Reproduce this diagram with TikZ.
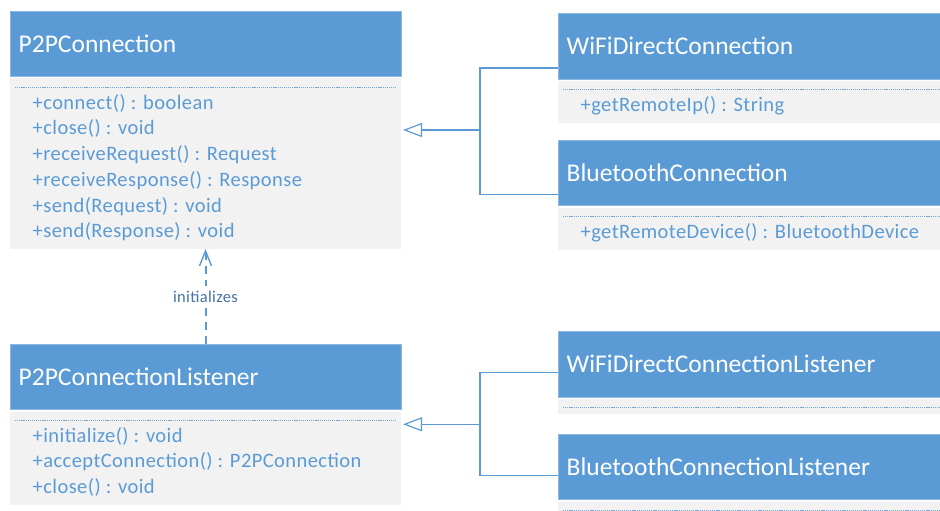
\documentclass[tikz,border=0pt]{standalone}
\usepackage{fontspec}
\setmainfont{Carlito}
\usetikzlibrary{arrows.meta}

\definecolor{umlblue}{HTML}{5B9BD5}
\definecolor{umlgray}{HTML}{F2F2F2}
\definecolor{umlrim}{HTML}{8DB8E2}
\definecolor{labelblue}{HTML}{4672A4}

\tikzset{
  classbox/.style={rectangle, inner sep=0pt, outer sep=0pt},
  classhead/.style={rectangle, fill=umlblue, draw=umlrim, line width=0.5pt, inner sep=0pt, outer sep=0pt},
  classtitle/.style={inner sep=0pt, text=white, font=\fontsize{25.5}{30}\selectfont},
  classbody/.style={rectangle, fill=umlgray, inner sep=0pt, outer sep=0pt},
  separator/.style={draw=umlblue!85, line width=0.6pt, dash pattern=on 1.2pt off 0.9pt},
  member/.style={inner sep=0pt, text=umlblue, font=\fontsize{20.5}{24}\selectfont\addfontfeatures{LetterSpace=2.1}},
  link/.style={draw=umlblue, line width=1.2pt},
  generalize/.style={link, -{Triangle[open, length=19pt, width=14pt, fill=white]}, shorten >=2pt},
  dependency/.style={draw=umlblue, line width=2pt, dash pattern=on 8pt off 6pt,
    -{Straight Barb[length=15pt, width=12pt, line width=1.4pt]}},
  depnote/.style={fill=white, inner xsep=2pt, inner ysep=5pt, text=labelblue,
    font=\fontsize{16.5}{19}\selectfont\addfontfeatures{LetterSpace=2}}
}

% #1 name, #2 x, #3 y, #4 width, #5 header height, #6 body height, #7 title
\newcommand\umlclass[7]{%
  \node[classbox, minimum width=#4pt, minimum height=#5pt+#6pt+2pt, anchor=north west] (#1) at (#2,#3) {};
  \node[classhead, minimum width=#4pt, minimum height=#5pt, anchor=north west] (#1-h) at (#1.north west) {};
  \node[classtitle, anchor=base west] (#1-t) at ([xshift=8.5pt,yshift=-8.3pt]#1-h.west) {#7};
  \node[classbody, minimum width=#4pt, minimum height=#6pt, anchor=south west] (#1-b) at (#1.south west) {};
  \draw[separator] ([xshift=5pt,yshift=-8.5pt]#1-b.north west) -- ([xshift=-5pt,yshift=-8.5pt]#1-b.north east);
}
% #1 class name, #2 comma separated operations
\newcommand\umlmembers[2]{%
  \foreach \m [count=\i] in {#2} {%
    \node[member, anchor=base west] (#1-m\i) at ([xshift=22.5pt,yshift={-30.7pt-(\i-1)*25.7pt}]#1-b.north west) {\m};
  }%
}

\begin{document}
\begin{tikzpicture}[x=1pt, y=-1pt]
  \useasboundingbox (0,0) rectangle (940,511);
  \clip (0,0) rectangle (940,511);

  % abstract connection and its listener
  \umlclass{pc}{10}{11}{391}{65.5}{170.5}{P2PConnection}
  \umlmembers{pc}{+connect() : boolean, +close() : void, +receiveRequest() : Request,
    +receiveResponse() : Response, +send(Request) : void, +send(Response) : void}

  \umlclass{pcl}{10}{344}{391}{65.5}{93}{P2PConnectionListener}
  \umlmembers{pcl}{+initialize() : void, +acceptConnection() : P2PConnection, +close() : void}

  % concrete connections
  \umlclass{wdc}{558}{13}{400}{66}{42}{WiFiDirectConnection}
  \umlmembers{wdc}{+getRemoteIp() : String}

  \umlclass{btc}{558}{140}{400}{65.5}{42}{BluetoothConnection}
  \umlmembers{btc}{+getRemoteDevice() : BluetoothDevice}

  % concrete listeners
  \umlclass{wdl}{558}{331}{400}{66}{15}{WiFiDirectConnectionListener}
  \umlclass{btl}{558}{434}{400}{65.5}{15}{BluetoothConnectionListener}

  % generalization: connections
  \path (pc.east) ++(79,0) coordinate (jc);
  \draw[link] (wdc.west) -| (jc);
  \draw[link] (btc.west) -| (jc);
  \draw[generalize] (jc) -- (pc.east);

  % generalization: listeners
  \path (pcl.east) ++(79,0) coordinate (jl);
  \draw[link] (wdl.west) -| (jl);
  \draw[link] (btl.west) -| (jl);
  \draw[generalize] (jl) -- (pcl.east);

  % dependency
  \draw[dependency] (pcl.north) -- node[depnote, pos=0.5] (initlabel) {initializes} (pc.south);
\end{tikzpicture}
\end{document}
